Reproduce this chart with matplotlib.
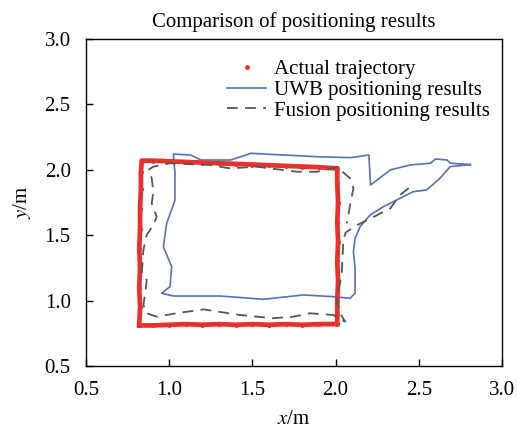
import numpy as np
import matplotlib
matplotlib.use("Agg")
import matplotlib.pyplot as plt

plt.rcParams['font.family'] = ['Liberation Serif', 'DejaVu Serif']
plt.rcParams['mathtext.fontset'] = 'stix'

# actual trajectory (red dots)
act_x = [0.82, 0.825, 0.82, 0.825, 0.82, 0.825, 0.825, 0.83, 0.83, 0.835,
         0.90, 1.00, 1.10, 1.20, 1.30, 1.40, 1.50, 1.60, 1.70, 1.80, 1.90, 2.01,
         2.01, 2.015, 2.01, 2.015, 2.01, 2.015, 2.01, 2.01, 2.01,
         1.90, 1.80, 1.70, 1.60, 1.50, 1.40, 1.30, 1.20, 1.10, 1.00, 0.90, 0.82]
act_y = [0.81, 0.95, 1.10, 1.25, 1.40, 1.55, 1.70, 1.85, 1.98, 2.07,
         2.07, 2.065, 2.06, 2.055, 2.05, 2.045, 2.04, 2.035, 2.03, 2.025, 2.02, 2.01,
         1.90, 1.75, 1.60, 1.45, 1.30, 1.15, 1.00, 0.90, 0.82,
         0.82, 0.815, 0.82, 0.815, 0.82, 0.815, 0.82, 0.815, 0.82, 0.815, 0.81, 0.81]

# UWB positioning results (blue)
uwb_x = [2.81, 2.69, 2.67, 2.60, 2.57, 2.45, 2.33, 2.21, 2.20, 2.09, 1.89, 1.69,
         1.49, 1.43, 1.37, 1.27, 1.19, 1.13, 1.025, 1.035, 1.035, 0.985, 0.965,
         1.015, 1.005, 0.955, 1.025, 1.305, 1.566, 1.806, 1.986, 2.087, 2.107,
         2.117, 2.117, 2.107, 2.117, 2.147, 2.207, 2.287, 2.387, 2.467, 2.547,
         2.627, 2.688, 2.81]
uwb_y = [2.04, 2.05, 2.075, 2.083, 2.05, 2.037, 2.00, 1.884, 2.113, 2.093, 2.10,
         2.113, 2.126, 2.10, 2.075, 2.075, 2.075, 2.113, 2.12, 1.973, 1.769, 1.591,
         1.412, 1.259, 1.106, 1.056, 1.035, 1.035, 1.01, 1.043, 1.03, 1.018, 1.043,
         1.056, 1.25, 1.374, 1.476, 1.565, 1.654, 1.718, 1.782, 1.833, 1.846,
         1.935, 2.024, 2.04]

# fusion positioning results (dashed grey)
fus_x = [2.44, 2.38, 2.33, 2.23, 2.13, 2.06, 2.047, 2.037, 2.007, 2.027, 2.057,
         1.986, 1.846, 1.746, 1.626, 1.425, 1.205, 1.045, 0.925, 0.865, 0.845,
         0.855, 0.865, 0.835, 0.845, 0.865, 0.905, 0.925, 0.895, 0.905, 0.895,
         0.875, 0.905, 1.005, 1.245, 1.365, 1.526, 1.766, 1.886, 1.986, 2.007,
         2.087, 2.107, 2.087, 2.077, 2.067]
fus_y = [1.86, 1.80, 1.706, 1.641, 1.578, 1.52, 1.463, 1.209, 1.005, 0.903, 0.839,
         0.89, 0.903, 0.877, 0.865, 0.89, 0.933, 0.903, 0.877, 0.903, 0.966,
         1.05, 1.157, 1.209, 1.387, 1.502, 1.578, 1.641, 1.744, 1.833, 1.935,
         2.0, 2.024, 2.05, 2.037, 2.011, 2.024, 1.985, 1.985, 2.011, 2.024,
         1.935, 1.859, 1.731, 1.654, 1.591]

fig = plt.figure(figsize=(5.17, 4.32), dpi=100)
ax = fig.add_axes([0.1663, 0.1528, 0.8047, 0.7569])

ax.plot(act_x + [act_x[0]], act_y + [act_y[0]], color='#e8302c', lw=3.4, zorder=3)
ax.plot(act_x, act_y, '.', color='#e8302c', ms=5, zorder=3, label='Actual trajectory')
ax.plot(uwb_x, uwb_y, color='#5870b4', lw=1.2, zorder=2, label='UWB positioning results')
ax.plot(fus_x, fus_y, color='#505a55', lw=1.3, dashes=(6, 4), zorder=4,
        label='Fusion positioning results')

ax.set_xlim(0.5, 3.0)
ax.set_ylim(0.5, 3.0)
ax.set_xticks([0.5, 1.0, 1.5, 2.0, 2.5, 3.0])
ax.set_yticks([0.5, 1.0, 1.5, 2.0, 2.5, 3.0])
ax.xaxis.set_major_formatter(matplotlib.ticker.FormatStrFormatter('%.1f'))
ax.yaxis.set_major_formatter(matplotlib.ticker.FormatStrFormatter('%.1f'))
ax.tick_params(direction='in', length=5, width=1, labelsize=15, pad=11)
ax.set_xlabel('$x$/m', fontsize=15, labelpad=7)
ax.set_ylabel('$y$/m', fontsize=15, labelpad=8)
ax.set_title('Comparison of positioning results', fontsize=15, pad=9)
for s in ax.spines.values():
    s.set_linewidth(1.0)

ax.legend(loc='upper right', bbox_to_anchor=(1.0, 0.975), frameon=False, fontsize=15,
          handlelength=1.9, handletextpad=0.35, labelspacing=0.05, borderaxespad=0.2)

fig.savefig('out.png', dpi=100)
